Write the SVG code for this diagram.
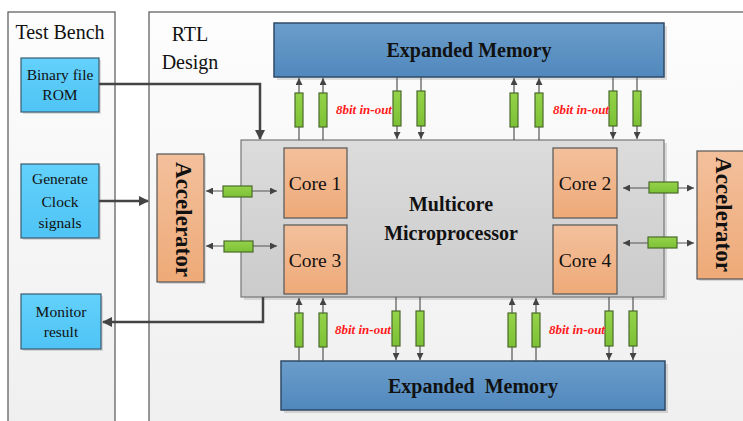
<svg xmlns="http://www.w3.org/2000/svg" width="743" height="421" viewBox="0 0 743 421">
<style>
.panel{stroke:#555;stroke-width:1.2}
.tb{fill:url(#gPanel)}
.blue{fill:url(#gCyan);stroke:#3a5a70;stroke-width:1.2}
.mem{fill:url(#gMem);stroke:#2f4a66;stroke-width:1.5}
.core{fill:url(#gCore);stroke:#555;stroke-width:1.2}
.proc{fill:url(#gProc);stroke:#777;stroke-width:1.2}
.g{fill:url(#gGreen);stroke:#4a6a2a;stroke-width:1.2}
.t{font-family:"Liberation Serif","Times New Roman",serif;fill:#111;text-anchor:middle}
.b{font-weight:bold}
.red{font-family:"Liberation Serif","Times New Roman",serif;font-weight:bold;font-style:italic;fill:#ff1a1a;font-size:13px;text-anchor:middle}
.thin{stroke:#555;stroke-width:1.2;fill:none}
.thick{stroke:#444;stroke-width:2.5;fill:none}
.sh{fill:#000;opacity:0.12}
</style>
<defs>
<linearGradient id="gPanel" x1="0" y1="0" x2="0" y2="1"><stop offset="0" stop-color="#fdfdfd"/><stop offset="1" stop-color="#efefef"/></linearGradient>
<linearGradient id="gCyan" x1="0" y1="0" x2="0" y2="1"><stop offset="0" stop-color="#63d1fb"/><stop offset="1" stop-color="#4fc4f5"/></linearGradient>
<linearGradient id="gMem" x1="0" y1="0" x2="0" y2="1"><stop offset="0" stop-color="#6b9dcb"/><stop offset="1" stop-color="#5088bd"/></linearGradient>
<linearGradient id="gCore" x1="0" y1="0" x2="0" y2="1"><stop offset="0" stop-color="#f3c09c"/><stop offset="1" stop-color="#eeaa78"/></linearGradient>
<linearGradient id="gProc" x1="0" y1="0" x2="0" y2="1"><stop offset="0" stop-color="#dcdcdc"/><stop offset="1" stop-color="#cbcbcb"/></linearGradient>
<linearGradient id="gGreen" x1="0" y1="0" x2="0" y2="1"><stop offset="0" stop-color="#94d24a"/><stop offset="1" stop-color="#7cc136"/></linearGradient>
<marker id="a" viewBox="0 0 10 10" refX="10" refY="5" markerWidth="7" markerHeight="7" markerUnits="userSpaceOnUse" orient="auto-start-reverse"><path d="M0,0 L10,5 L0,10 Z" fill="#444"/></marker>
<marker id="A" viewBox="0 0 10 10" refX="9" refY="5" markerWidth="10" markerHeight="11" markerUnits="userSpaceOnUse" orient="auto-start-reverse"><path d="M0,0 L10,5 L0,10 Z" fill="#444"/></marker>
</defs>
<rect width="743" height="421" fill="#fff"/>

<g id="testbench">
<rect class="panel tb" x="8" y="12" width="107" height="420"/>
<text class="t" x="60" y="39" font-size="20">Test Bench</text>
</g>
<g id="rtl">
<rect class="panel tb" x="149" y="12" width="600" height="420"/>
<text class="t" x="190" y="41" font-size="20">RTL</text>
<text class="t" x="190" y="69" font-size="20">Design</text>
</g>

<g id="rom">
<rect class="sh" x="23" y="60" width="78" height="54"/>
<rect class="blue" x="21" y="58" width="78" height="54"/>
<text class="t" x="60" y="80" font-size="15.5">Binary file</text>
<text class="t" x="60" y="100" font-size="15.5">ROM</text>
</g>
<g id="clock">
<rect class="sh" x="23" y="166" width="78" height="74"/>
<rect class="blue" x="21" y="164" width="78" height="74"/>
<text class="t" x="60" y="184" font-size="15.5">Generate</text>
<text class="t" x="60" y="207" font-size="15.5">Clock</text>
<text class="t" x="60" y="228" font-size="15.5">signals</text>
</g>
<g id="monitor">
<rect class="sh" x="23" y="296" width="80" height="55"/>
<rect class="blue" x="21" y="294" width="80" height="55"/>
<text class="t" x="61" y="317" font-size="15.5">Monitor</text>
<text class="t" x="61" y="337" font-size="15.5">result</text>
</g>

<g id="memTop">
<rect class="sh" x="277" y="26" width="390" height="54"/>
<rect class="mem" x="274" y="23" width="390" height="54"/>
<text class="t b" x="469" y="57" font-size="20">Expanded Memory</text>
</g>
<g id="memBottom">
<rect class="sh" x="284" y="364" width="384" height="49"/>
<rect class="mem" x="281" y="361" width="384" height="49"/>
<text class="t b" x="473" y="393" font-size="20" xml:space="preserve">Expanded  Memory</text>
</g>

<g id="processor">
<rect class="sh" x="244" y="143" width="423" height="157"/>
<rect class="proc" x="241" y="140" width="423" height="157"/>
<text class="t b" x="451" y="211" font-size="20">Multicore</text>
<text class="t b" x="451" y="240" font-size="20">Microprocessor</text>
</g>
<g id="core1"><rect class="core" x="284" y="148" width="63" height="70"/><text class="t" x="315" y="190" font-size="19.5">Core 1</text></g>
<g id="core3"><rect class="core" x="284" y="225" width="63" height="69"/><text class="t" x="315" y="267" font-size="19.5">Core 3</text></g>
<g id="core2"><rect class="core" x="553" y="148" width="64" height="70"/><text class="t" x="585" y="190" font-size="19.5">Core 2</text></g>
<g id="core4"><rect class="core" x="553" y="225" width="64" height="69"/><text class="t" x="585" y="267" font-size="19.5">Core 4</text></g>

<g id="accLeft">
<rect class="sh" x="159" y="156" width="47" height="128"/>
<rect class="core" x="157" y="154" width="47" height="128"/>
<text class="t b" font-size="23" transform="translate(176,219.5) rotate(90)">Accelerator</text>
</g>
<g id="accRight">
<rect class="sh" x="699" y="153" width="50" height="128"/>
<rect class="core" x="697" y="151" width="50" height="128"/>
<text class="t b" font-size="23" transform="translate(716,214.5) rotate(90)">Accelerator</text>
</g>

<g id="connectors">
<polyline class="thick" points="99,84 260,84 260,139" marker-end="url(#A)"/>
<line class="thick" x1="99" y1="201" x2="148" y2="201" marker-end="url(#A)"/>
<polyline class="thick" points="263,297 263,322 103,322" marker-end="url(#A)"/>

<line class="thin" x1="206" y1="191" x2="277" y2="191" marker-start="url(#a)" marker-end="url(#a)"/>
<line class="thin" x1="206" y1="246" x2="277" y2="246" marker-start="url(#a)" marker-end="url(#a)"/>
<line class="thin" x1="623" y1="188" x2="694" y2="188" marker-start="url(#a)" marker-end="url(#a)"/>
<line class="thin" x1="623" y1="243" x2="694" y2="243" marker-start="url(#a)" marker-end="url(#a)"/>

<line class="thin" x1="299" y1="140" x2="299" y2="78" marker-end="url(#a)"/>
<line class="thin" x1="323" y1="140" x2="323" y2="78" marker-end="url(#a)"/>
<line class="thin" x1="397" y1="77" x2="397" y2="139" marker-end="url(#a)"/>
<line class="thin" x1="421" y1="77" x2="421" y2="139" marker-end="url(#a)"/>
<line class="thin" x1="514" y1="140" x2="514" y2="78" marker-end="url(#a)"/>
<line class="thin" x1="539" y1="140" x2="539" y2="78" marker-end="url(#a)"/>
<line class="thin" x1="613" y1="77" x2="613" y2="139" marker-end="url(#a)"/>
<line class="thin" x1="637" y1="77" x2="637" y2="139" marker-end="url(#a)"/>

<line class="thin" x1="299" y1="361" x2="299" y2="298" marker-end="url(#a)"/>
<line class="thin" x1="323" y1="361" x2="323" y2="298" marker-end="url(#a)"/>
<line class="thin" x1="396" y1="297" x2="396" y2="360" marker-end="url(#a)"/>
<line class="thin" x1="420" y1="297" x2="420" y2="360" marker-end="url(#a)"/>
<line class="thin" x1="512" y1="361" x2="512" y2="298" marker-end="url(#a)"/>
<line class="thin" x1="536" y1="361" x2="536" y2="298" marker-end="url(#a)"/>
<line class="thin" x1="609" y1="297" x2="609" y2="360" marker-end="url(#a)"/>
<line class="thin" x1="633" y1="297" x2="633" y2="360" marker-end="url(#a)"/>

<rect class="g" x="223" y="186" width="29" height="11"/>
<rect class="g" x="224" y="241" width="29" height="11"/>
<rect class="g" x="649" y="182" width="29" height="11"/>
<rect class="g" x="648" y="237" width="29" height="11"/>

<rect class="g" x="295" y="93" width="8" height="34"/>
<rect class="g" x="319" y="93" width="8" height="34"/>
<rect class="g" x="393" y="91" width="8" height="35"/>
<rect class="g" x="417" y="91" width="8" height="35"/>
<rect class="g" x="510" y="93" width="8" height="34"/>
<rect class="g" x="535" y="93" width="8" height="34"/>
<rect class="g" x="609" y="91" width="8" height="35"/>
<rect class="g" x="633" y="91" width="8" height="35"/>

<rect class="g" x="295" y="313" width="8" height="34"/>
<rect class="g" x="319" y="313" width="8" height="34"/>
<rect class="g" x="392" y="311" width="8" height="35"/>
<rect class="g" x="416" y="311" width="8" height="35"/>
<rect class="g" x="508" y="313" width="8" height="34"/>
<rect class="g" x="532" y="313" width="8" height="34"/>
<rect class="g" x="605" y="311" width="8" height="35"/>
<rect class="g" x="629" y="311" width="8" height="35"/>

<text class="red" x="364" y="114">8bit in-out</text>
<text class="red" x="581" y="114">8bit in-out</text>
<text class="red" x="363" y="334">8bit in-out</text>
<text class="red" x="577" y="334">8bit in-out</text>
</g>
</svg>
